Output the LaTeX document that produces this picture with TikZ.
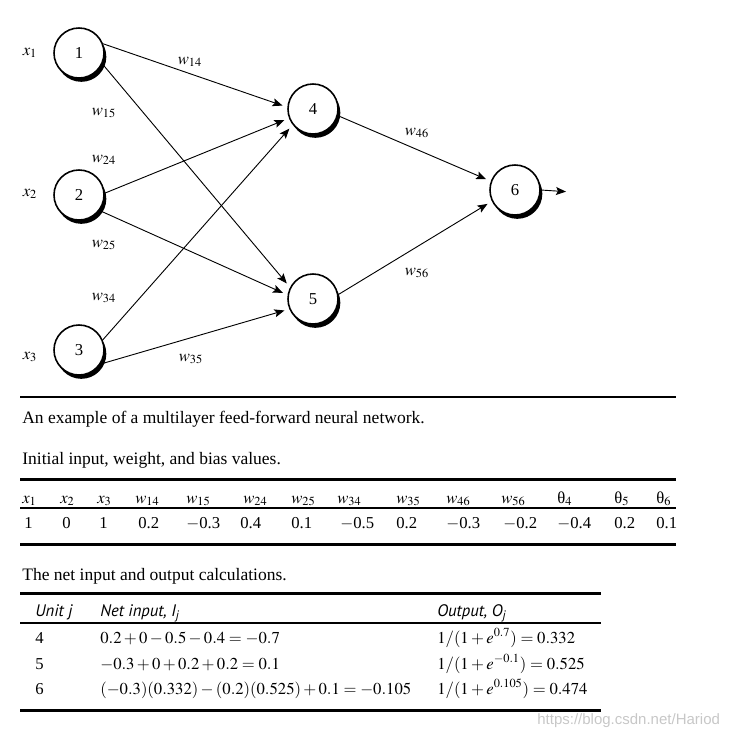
\documentclass[tikz,border=0pt]{standalone}
\usepackage{mathptmx}
\usepackage{fontspec}
\setmainfont{Liberation Serif}
\newfontfamily\headfont{PT Sans}
\newfontfamily\markfont{Liberation Sans}
\usetikzlibrary{arrows.meta}

\begin{document}
\begin{tikzpicture}[x=0.6pt, y=-0.6pt, >={Stealth[length=6pt, width=4.8pt, inset=1.2pt]},
  every node/.style={font=\fontsize{10}{12}\selectfont, inner sep=0pt},
  unit/.style={draw, circle, line width=0.95pt, fill=white, minimum size=30pt,
    preaction={fill=black, transform canvas={xshift=1.4pt, yshift=-2.3pt}}},
  link/.style={->, line width=0.55pt, shorten >=3pt},
  cell/.style={anchor=base west},
  caption/.style={anchor=west, font=\fontsize{10.5}{12}\selectfont},
  heavyrule/.style={line width=1.8pt},
  lightrule/.style={line width=0.7pt}]
  \useasboundingbox (0,0) rectangle (739,738);
  % the network: inputs, hidden layer, output
  \node[unit] (n1) at (79,53)   {1};
  \node[unit] (n2) at (79,195)  {2};
  \node[unit] (n3) at (79,350)  {3};
  \node[unit] (n4) at (313,109) {4};
  \node[unit] (n5) at (313,299) {5};
  \node[unit] (n6) at (515,190) {6};
  \coordinate (out) at (571,192);
  \node (x1) at (30,53)  {$x_1$};
  \node (x2) at (30,194) {$x_2$};
  \node (x3) at (30,357) {$x_3$};
  \draw[link] (n1.21)  -- (n4.176);
  \draw[link] (n1.-25) -- (n5.153);
  \draw[link] (n2.4)   -- (n4.201);
  \draw[link] (n2.-37) -- (n5.171);
  \draw[link] (n3.23)  -- (n4.218);
  \draw[link] (n3.-33) -- (n5.203);
  \draw[link] (n4.-15) -- (n6.160);
  \draw[link] (n5.10)  -- (n6.206);
  \draw[link] (n6.east) -- (out);
  \node (w14) at (190,62)  {$w_{14}$};
  \node (w15) at (104,113) {$w_{15}$};
  \node (w24) at (104,160) {$w_{24}$};
  \node (w25) at (104,245) {$w_{25}$};
  \node (w34) at (104,298) {$w_{34}$};
  \node (w35) at (191,359) {$w_{35}$};
  \node (w46) at (417,133) {$w_{46}$};
  \node (w56) at (417,273) {$w_{56}$};
  % captions
  \draw[line width=0.8pt] (20,397) -- (676,397);
  \node[caption] (cap1) at (22,419) {An example of a multilayer feed-forward neural network.};
  \node[caption] (cap2) at (22,460) {Initial input, weight, and bias values.};
  % first table
  \draw[heavyrule] (20,479) -- (676,479);
  \draw[lightrule] (20,508) -- (676,508);
  \draw[heavyrule] (20,544) -- (676,544);
  \foreach \i/\xh/\xv/\h/\v in {1/22/24/{$x_1$}/1, 2/60/62/{$x_2$}/0, 3/97/99/{$x_3$}/1,
      4/135/138/{$w_{14}$}/0.2, 5/186/186/{$w_{15}$}/{$-$0.3}, 6/243/240/{$w_{24}$}/0.4,
      7/291/291/{$w_{25}$}/0.1, 8/337/340/{$w_{34}$}/{$-$0.5}, 9/396/396/{$w_{35}$}/0.2,
      10/446/446/{$w_{46}$}/{$-$0.3}, 11/501/503/{$w_{56}$}/{$-$0.2}, 12/557/557/{θ$_4$}/{$-$0.4},
      13/614/614/{θ$_5$}/0.2, 14/656/656/{θ$_6$}/0.1}
  {
    \node[cell] (h\i) at (\xh,503) {\h};
    \node[cell] (v\i) at (\xv,528) {\v};
  }
  % second table
  \node[caption] (cap3) at (22,576) {The net input and output calculations.};
  \draw[heavyrule] (20,593) -- (601,593);
  \draw[lightrule] (20,623) -- (601,623);
  \draw[heavyrule] (20,710) -- (601,710);
  \node[cell, font=\headfont\itshape\fontsize{10}{12}\selectfont] (hu) at (35,616) {Unit j};
  \node[cell, font=\headfont\itshape\fontsize{10}{12}\selectfont] (hi) at (100,616) {Net input, I\textsubscript{j}};
  \node[cell, font=\headfont\itshape\fontsize{10}{12}\selectfont] (ho) at (437,616) {Output, O\textsubscript{j}};
  \node[cell] (u4) at (35,643) {4};
  \node[cell] (u5) at (35,669) {5};
  \node[cell] (u6) at (35,694) {6};
  \node[cell] (i4) at (100,643) {$0.2+0-0.5-0.4=-0.7$};
  \node[cell] (i5) at (100,669) {$-0.3+0+0.2+0.2=0.1$};
  \node[cell] (i6) at (100,694) {$(-0.3)(0.332)-(0.2)(0.525)+0.1=-0.105$};
  \node[cell] (o4) at (437,643) {$1/(1+e^{0.7})=0.332$};
  \node[cell] (o5) at (437,669) {$1/(1+e^{-0.1})=0.525$};
  \node[cell] (o6) at (437,694) {$1/(1+e^{0.105})=0.474$};
  \node[cell, font=\markfont\fontsize{9}{10}\selectfont, text=black!22] (mark) at (537,724) {https://blog.csdn.net/Hariod};
\end{tikzpicture}
\end{document}
